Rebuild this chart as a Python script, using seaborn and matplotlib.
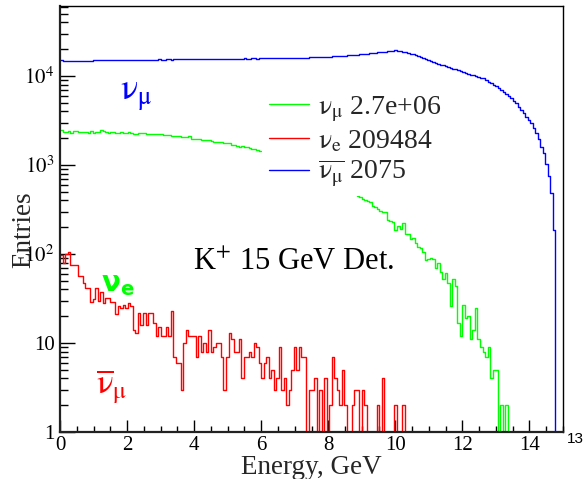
import numpy as np
import pandas as pd
import matplotlib
matplotlib.use("Agg")
import matplotlib.pyplot as plt
from matplotlib.ticker import MultipleLocator, LogLocator, NullFormatter
import seaborn as sns

nan = np.nan

# ---- binning (x categories of the histograms) ----
energy_min, energy_max, n_bins = 0.0, 15.0, 200

# ---- series values: entries per bin ----
blue_numu = [
    15100, 14900, 14800, 14850, 14750, 14800, 14900, 14800, 14750, 14850,
    14900, 14850, 14900, 14950, 15000, 14950, 15050, 15000, 14950, 15100,
    15050, 15000, 15100, 15150, 15050, 15100, 15150, 15100, 15200, 15150,
    15100, 15200, 15250, 15150, 15200, 15300, 15250, 15200, 15300, 15350,
    15250, 15300, 15350, 15400, 15300, 15350, 15400, 15450, 15350, 15400,
    15450, 15400, 15500, 15450, 15500, 15450, 15550, 15500, 15450, 15550,
    15600, 15500, 15550, 15600, 15650, 15550, 15600, 15650, 15600, 15700,
    15650, 15600, 15700, 15750, 15650, 15700, 15750, 15800, 15700, 15750,
    15800, 15800, 15850, 15750, 15800, 15850, 15900, 15850, 15900, 15950,
    15900, 16000, 15950, 16000, 16050, 16000, 16100, 16150, 16100, 16200,
    16250, 16300, 16250, 16350, 16400, 16450, 16500, 16550, 16600, 16700,
    16750, 16850, 16900, 17000, 17100, 17200, 17300, 17350, 17450, 17600,
    17700, 17800, 17900, 18000, 18150, 18300, 18400, 18550, 18700, 18850,
    19000, 19200, 19350, 19600, 19300, 19000, 18750, 18450, 18150, 17850,
    17550, 17200, 16800, 16400, 16000, 15550, 15150, 14700, 14350, 14050,
    13750, 13450, 13150, 12900, 12650, 12400, 12150, 11900, 11650, 11400,
    11150, 10900, 10650, 10400, 10150, 9900, 9650, 9420, 9420, 9020,
    8490, 8280, 7930, 7730, 7280, 6970, 6680, 6290, 5970, 5620,
    5240, 4930, 4450, 4150, 3810, 3440, 3210, 2940, 2580, 2310,
    1940, 1610, 1350, 1025, 752, 480, 186, 0, 0, 0,
]

# green bins hidden behind the legend box cannot be read -> nan
green_nue = [
    2470, 2330, 2330, 2410, 2310, 2390, 2390, 2330, 2330, 2370,
    2370, 2310, 2410, 2310, 2370, 2370, 2470, 2410, 2380, 2310,
    2330, 2370, 2270, 2300, 2330, 2270, 2300, 2370, 2320, 2230,
    2250, 2310, 2280, 2300, 2260, 2230, 2240, 2250, 2250, 2240,
    2250, 2190, 2150, 2160, 2140, 2140, 2130, 2100, 2090, 2080,
    2070, 2110, 1980, 1960, 1965, 1950, 1920, 1910, 1900, 1890,
    1880, 1830, 1800, 1805, 1795, 1790, 1785, 1750, 1695, 1690,
    1640, 1610, 1620, 1590, 1585, 1560, 1530, 1500, 1480, 1420,
    nan, nan, nan, nan, nan, nan, nan, nan, nan, nan,
    nan, nan, nan, nan, nan, nan, nan, nan, nan, nan,
    nan, nan, nan, nan, nan, nan, nan, nan, nan, nan,
    nan, nan, nan, nan, 530, 515, 490, 470, 445, 435,
    415, 405, 390, 380, 345, 340, 318, 305, 300, 295,
    240, 235, 228, 186, 204, 189, 221, 166, 166, 146,
    150, 134, 121, 116, 106, 86, 87, 91, 87, 69,
    79, 63, 53, 61, 47, 26, 52, 44, 17, 12,
    27, 19, 20, 11, 14, 25, 11, 9, 8, 7,
    9, 4, 5, 5, 0, 2, 0, 2, 0, 0,
    0, 0, 0, 0, 0, 0, 0, 0, 0, 0,
    0, 0, 0, 0, 0, 0, 0, 0, 0, 0,
]

red_numubar = [
    97, 80, 100, 106, 76, 75, 75, 57, 57, 47,
    41, 41, 29, 31, 41, 30, 37, 28, 32, 32,
    29, 29, 21, 26, 25, 27, 25, 28, 26, 14,
    13, 22, 16, 22, 16, 22, 22, 17, 12, 15,
    12, 12, 15, 12, 23, 7, 6, 6, 3, 10,
    14, 12, 12, 12, 7, 12, 8, 10, 8, 14,
    8, 9, 10, 10, 7, 3, 7, 13, 11, 8,
    8, 11, 4, 7, 7, 8, 7, 10, 9, 6,
    4, 6, 7, 4, 5, 3, 4, 9, 3, 4,
    2, 3, 5, 9, 5, 9, 7, 7, 0, 3,
    3, 4, 0, 3, 0, 4, 0, 2, 7, 4,
    3, 2, 5, 2, 0, 0, 2, 3, 3, 0,
    3, 2, 0, 0, 0, 0, 2, 0, 4, 0,
    0, 0, 0, 2, 0, 0, 2, 0, 0, 0,
    0, 0, 0, 0, 0, 0, 0, 0, 0, 0,
    0, 0, 0, 0, 0, 0, 0, 0, 0, 0,
    0, 0, 0, 0, 0, 0, 0, 0, 0, 0,
    0, 0, 0, 0, 0, 0, 0, 0, 0, 0,
    0, 0, 0, 0, 0, 0, 0, 0, 0, 0,
    0, 0, 0, 0, 0, 0, 0, 0, 0, 0,
]

legend_labels = [r"$\mathrm{\nu_{\mu}}$ 2.7e+06",
                 r"$\mathrm{\nu_{e}}$ 209484",
                 r"$\overline{\mathrm{\nu_{\mu}}}$ 2075"]
xtick_values = [0, 2, 4, 6, 8, 10, 12, 14]
ytick_values = [1, 10, 100, 1000, 10000]
ytick_labels = ["1", "10", r"$10^{2}$", r"$10^{3}$", r"$10^{4}$"]

GREEN, RED, BLUE = "#00ff00", "#ff0000", "#0000ff"

sns.set_style("ticks")
plt.rcParams["font.family"] = ["Liberation Serif", "DejaVu Serif"]
plt.rcParams["mathtext.fontset"] = "stix"

W, H = 587, 479
fig = plt.figure(figsize=(W / 100, H / 100), dpi=100)
ax = fig.add_axes([60 / W, 1 - 432 / H, 503 / W, 426 / H])
ax.set_yscale("log")

edges = np.linspace(energy_min, energy_max, n_bins + 1)
centers = 0.5 * (edges[:-1] + edges[1:])


def draw_hist(values, color):
    vals = np.asarray(values, dtype=float)
    ok = np.isfinite(vals)
    line = None
    i = 0
    while i < len(vals):
        if not ok[i]:
            i += 1
            continue
        j = i
        while j < len(vals) and ok[j]:
            j += 1
        df = pd.DataFrame({"energy": centers[i:j], "entries": vals[i:j]})
        sns.histplot(data=df, x="energy", weights="entries",
                     bins=list(edges[i:j + 1]), element="step", fill=False,
                     color=color, linewidth=1.0, ax=ax)
        line = ax.lines[-1]
        i = j
    return line


l_blue = draw_hist(blue_numu, BLUE)
l_green = draw_hist(green_nue, GREEN)
l_red = draw_hist(red_numubar, RED)

ax.set_xlim(energy_min, energy_max)
ax.set_ylim(1, 10 ** 4.787)

ax.set_xticks(xtick_values)
ax.set_xticklabels([str(v) for v in xtick_values])
ax.xaxis.set_minor_locator(MultipleLocator(0.5))
ax.set_yticks(ytick_values)
ax.set_yticklabels(ytick_labels)
ax.yaxis.set_minor_locator(LogLocator(base=10, subs=np.arange(2, 10)))
ax.yaxis.set_minor_formatter(NullFormatter())

ax.tick_params(which="both", direction="in", top=False, right=False,
               colors="black", labelsize=15, width=1.0)
ax.tick_params(axis="x", which="major", length=9, pad=3)
ax.tick_params(axis="x", which="minor", length=4)
ax.tick_params(axis="y", which="major", length=11, pad=4)
ax.tick_params(axis="y", which="minor", length=6)

for side in ["left", "bottom"]:
    ax.spines[side].set_linewidth(1.6)
    ax.spines[side].set_color("#222222")
for side in ["top", "right"]:
    ax.spines[side].set_linewidth(1.0)
    ax.spines[side].set_color("black")

ax.set_xlabel("Energy, GeV", fontsize=19.5, labelpad=0)
ax.set_ylabel("Entries", fontsize=19.5)
ax.yaxis.set_label_coords(-0.047, 0.476)


def px(x, y):
    return x / W, 1 - y / H


fig.text(*px(120, 100), r"$\mathrm{\nu_{\mu}}$", color=BLUE, fontsize=26, va="baseline")
fig.text(*px(101, 291), r"$\mathbf{\nu}_{\mathbf{e}}$", color=GREEN, fontsize=20,
         va="baseline", math_fontfamily="dejavusans")
fig.text(*px(96, 393), r"$\overline{\mathrm{\nu}}_{\mathrm{\mu}}$", color=RED,
         fontsize=25, va="baseline")
fig.text(*px(193, 270), r"K$^{+}$ 15 GeV Det.", color="black", fontsize=22, va="baseline")
fig.text(*px(567, 443), "13", color="black", fontsize=11, va="baseline",
         family="Liberation Sans")

leg = ax.legend([l_green, l_red, l_blue], legend_labels, loc="upper left",
                bbox_to_anchor=px(262, 87), bbox_transform=fig.transFigure,
                frameon=True, fancybox=False, edgecolor="none", facecolor="white",
                framealpha=1.0, fontsize=20, handlelength=1.45, handletextpad=0.3,
                borderpad=0.25, labelspacing=0.15, borderaxespad=0)

fig.savefig("out.png", dpi=100)
